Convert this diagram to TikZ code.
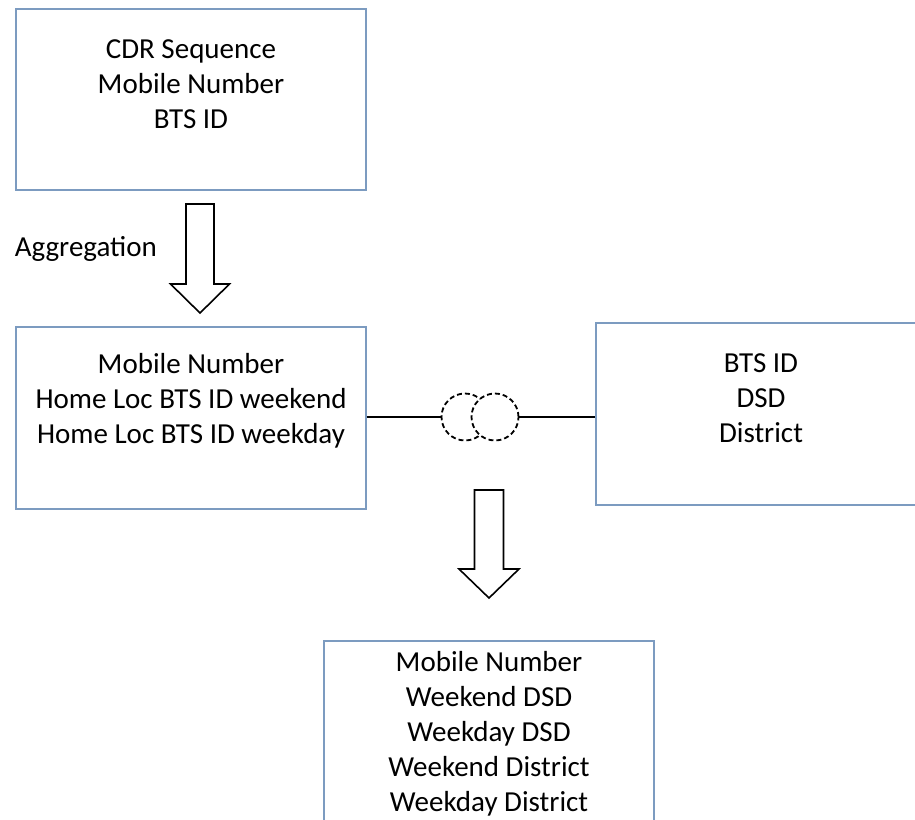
\documentclass[tikz,border=0pt]{standalone}
\usepackage{fontspec}
\setmainfont{Carlito}
\usetikzlibrary{positioning,calc}

\definecolor{boxblue}{RGB}{124,155,192}

\tikzset{
  tablebox/.style={draw=boxblue, line width=1.2pt, inner sep=0pt},
  fieldtext/.style={align=center, inner sep=0pt, font=\fontsize{29}{35}\selectfont},
  blockarrow/.style={draw=black, line width=1.6pt, fill=white, line join=miter},
  joinring/.style={circle, draw=black, dash pattern=on 5pt off 3pt, line width=1.8pt, fill=white, minimum size=47pt, inner sep=0pt},
}

\begin{document}
\begin{tikzpicture}[x=1pt, y=-1pt]

  \clip (0,0) rectangle (915,819);

  % Tables
  \node[tablebox, minimum width=350pt, minimum height=181pt] (cdr) at (191,99.5) {};
  \node[tablebox, minimum width=350pt, minimum height=182pt] (home) at (191,418) {};
  \node[tablebox, minimum width=330pt, minimum height=182pt] (bts) at (761,414) {};
  \node[tablebox, minimum width=330pt, minimum height=182pt] (result) at (489,732) {};

  % Fields
  \node[fieldtext] (cdrtext) at ($(cdr.north)+(0,75.5)$) {CDR Sequence\\Mobile Number\\BTS ID};
  \node[fieldtext] (hometext) at ($(home.north)+(0,74.5)$) {Mobile Number\\Home Loc BTS ID weekend\\Home Loc BTS ID weekday};
  \node[fieldtext] (btstext) at ($(bts.north)+(0,76)$) {BTS ID\\DSD\\District};
  \node[fieldtext] (resulttext) at ($(result.north)+(0,93)$) {Mobile Number\\Weekend DSD\\Weekday DSD\\Weekend District\\Weekday District};

  % Aggregation arrow
  \coordinate (agg) at (200,204);
  \draw[blockarrow] (agg) ++(-14,0) -- ++(28,0) -- ++(0,80) -- ++(15.5,0)
    -- ++(-29.5,29) -- ++(-29.5,-29) -- ++(15.5,0) -- cycle;
  \node[fieldtext, left=43pt of agg, yshift=-45pt, anchor=east] (agglabel) {Aggregation};

  % Join
  \node[joinring] (ringl) at (465,417) {};
  \node[joinring] (ringr) at (495,417) {};
  \draw[line width=1.8pt] (home.east |- ringl.west) -- (ringl.west);
  \draw[line width=1.8pt] (ringr.east) -- (bts.west |- ringr.east);

  % Result arrow
  \coordinate (res) at (489,490);
  \draw[blockarrow] (res) ++(-14.5,0) -- ++(29,0) -- ++(0,79) -- ++(15.5,0)
    -- ++(-30,29) -- ++(-30,-29) -- ++(15.5,0) -- cycle;

\end{tikzpicture}
\end{document}
